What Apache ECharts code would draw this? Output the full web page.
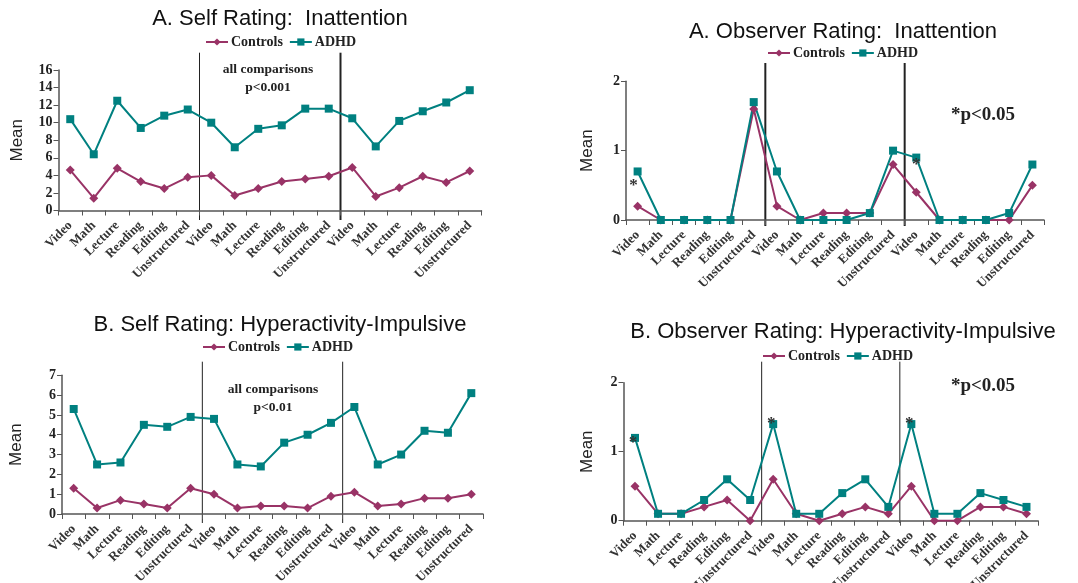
<!DOCTYPE html>
<html>
<head>
<meta charset="utf-8">
<script src="https://cdn.jsdelivr.net/npm/echarts@6/dist/echarts.min.js"></script>
<style>
  html, body { margin: 0; padding: 0; background: #fff; }
  #main { width: 1078px; height: 583px; }
</style>
</head>
<body>
<div id="main"></div>
<script>
var activities = ["Video", "Math", "Lecture", "Reading", "Editing", "Unstructured"];
var categories = activities.concat(activities, activities);

// A. Self rating: inattention
var selfInattControls = [4.6, 1.4, 4.8, 3.3, 2.5, 3.8, 4.0, 1.7, 2.5, 3.3, 3.6, 3.9, 4.9, 1.6, 2.6, 3.9, 3.2, 4.5];
var selfInattAdhd = [10.4, 6.4, 12.5, 9.4, 10.8, 11.5, 10.0, 7.2, 9.3, 9.7, 11.6, 11.6, 10.5, 7.3, 10.2, 11.3, 12.3, 13.7];

// A. Observer rating: inattention
var obsInattControls = [0.2, 0, 0, 0, 0, 1.6, 0.2, 0, 0.1, 0.1, 0.1, 0.8, 0.4, 0, 0, 0, 0, 0.5];
var obsInattAdhd = [0.7, 0, 0, 0, 0, 1.7, 0.7, 0, 0, 0, 0.1, 1.0, 0.9, 0, 0, 0, 0.1, 0.8];
var obsInattStars = [0, 12];

// B. Self rating: hyperactivity-impulsive
var selfHyperControls = [1.3, 0.3, 0.7, 0.5, 0.3, 1.3, 1.0, 0.3, 0.4, 0.4, 0.3, 0.9, 1.1, 0.4, 0.5, 0.8, 0.8, 1.0];
var selfHyperAdhd = [5.3, 2.5, 2.6, 4.5, 4.4, 4.9, 4.8, 2.5, 2.4, 3.6, 4.0, 4.6, 5.4, 2.5, 3.0, 4.2, 4.1, 6.1];

// B. Observer rating: hyperactivity-impulsive
var obsHyperControls = [0.5, 0.1, 0.1, 0.2, 0.3, 0, 0.6, 0.1, 0, 0.1, 0.2, 0.1, 0.5, 0, 0, 0.2, 0.2, 0.1];
var obsHyperAdhd = [1.2, 0.1, 0.1, 0.3, 0.6, 0.3, 1.4, 0.1, 0.1, 0.4, 0.6, 0.2, 1.4, 0.1, 0.1, 0.4, 0.3, 0.2];
var obsHyperStars = [0, 6, 12];

var SERIF = '"Liberation Serif", "Times New Roman", serif';
var SANS = '"Liberation Sans", Arial, sans-serif';
var PLUM = "#993366";
var TEAL = "#008080";

var panels = [
  {
    title: "A. Self Rating:  Inattention", titlePos: [280, 19],
    grid: { left: 58.5, top: 70, width: 423, height: 140.5 },
    max: 16, interval: 2, nameGap: 33,
    legend: { left: 205, top: 35 },
    controls: selfInattControls, adhd: selfInattAdhd,
    stars: [], starOffset: [],
    sep: { top: 52.7, bottom: 220, widths: [1, 2] }
  },
  {
    title: "A. Observer Rating:  Inattention", titlePos: [843, 32],
    grid: { left: 626, top: 81.3, width: 418, height: 138.7 },
    max: 2, interval: 1, nameGap: 30,
    legend: { left: 767, top: 46 },
    controls: obsInattControls, adhd: obsInattAdhd,
    stars: obsInattStars, starOffset: [[-4, 14], [0, 7]],
    sep: { top: 63, bottom: 226, widths: [2, 2] }
  },
  {
    title: "B. Self Rating: Hyperactivity-Impulsive", titlePos: [280, 325],
    grid: { left: 62, top: 375.3, width: 421, height: 138.7 },
    max: 7, interval: 1, nameGap: 37,
    legend: { left: 202, top: 340 },
    controls: selfHyperControls, adhd: selfHyperAdhd,
    stars: [], starOffset: [],
    sep: { top: 361.7, bottom: 523, widths: [1, 1] }
  },
  {
    title: "B. Observer Rating: Hyperactivity-Impulsive", titlePos: [843, 332],
    grid: { left: 623.5, top: 382.7, width: 414.5, height: 138 },
    max: 2, interval: 1, nameGap: 28,
    legend: { left: 762, top: 349 },
    controls: obsHyperControls, adhd: obsHyperAdhd,
    stars: obsHyperStars, starOffset: [[-2, 5], [-2, 0], [-2, 0]],
    sep: { top: 361.7, bottom: 523, widths: [1, 1] }
  }
];

var grids = [], xAxes = [], yAxes = [], series = [], legends = [], texts = [];

panels.forEach(function (p, i) {
  grids.push({
    left: p.grid.left, top: p.grid.top, width: p.grid.width, height: p.grid.height,
    containLabel: false, outerBoundsMode: "none"
  });
  xAxes.push({
    type: "category", gridIndex: i, data: categories, boundaryGap: true,
    axisLine: { lineStyle: { color: "#555", width: 1.5 } },
    axisTick: { show: true, interval: 0, length: 5, lineStyle: { color: "#555" } },
    axisLabel: {
      interval: 0, rotate: 45, margin: 13,
      fontFamily: SERIF, fontWeight: "bold", fontSize: 13, color: "#333"
    },
    splitLine: { show: false }
  });
  yAxes.push({
    type: "value", gridIndex: i, min: 0, max: p.max, interval: p.interval,
    name: "Mean", nameLocation: "middle", nameRotate: 90, nameGap: p.nameGap,
    nameTextStyle: { fontFamily: SANS, fontSize: 17, color: "#222" },
    axisLine: { show: true, lineStyle: { color: "#555", width: 1.5 } },
    axisTick: { show: true, length: 5, lineStyle: { color: "#555" } },
    axisLabel: { fontFamily: SERIF, fontWeight: "bold", fontSize: 14, color: "#222", margin: 6 },
    splitLine: { show: false }
  });
  series.push({
    name: "Controls", type: "line", xAxisIndex: i, yAxisIndex: i,
    data: p.controls, symbol: "diamond", symbolSize: 9,
    color: PLUM, lineStyle: { width: 2 }
  });
  var starData = p.stars.map(function (idx, k) {
    return {
      coord: [idx, p.adhd[idx]],
      label: { offset: p.starOffset[k] }
    };
  });
  series.push({
    name: "ADHD", type: "line", xAxisIndex: i, yAxisIndex: i,
    data: p.adhd, symbol: "rect", symbolSize: 8,
    color: TEAL, lineStyle: { width: 2 },
    markPoint: {
      symbol: "circle", symbolSize: 1,
      itemStyle: { color: "transparent" },
      label: {
        show: true, formatter: "*", position: "inside",
        fontFamily: SERIF, fontWeight: "bold", fontSize: 17, color: "#333"
      },
      data: starData
    }
  });
  legends.push({
    data: ["Controls", "ADHD"], left: p.legend.left, top: p.legend.top,
    itemWidth: 22, itemHeight: 9, itemGap: 6, padding: 0,
    textStyle: { fontFamily: SERIF, fontWeight: "bold", fontSize: 14, color: "#222", padding: [0, 0, 0, -2] }
  });
  texts.push({
    type: "text", id: "title" + i, x: p.titlePos[0], y: p.titlePos[1],
    style: { text: p.title, font: '22px ' + SANS, fill: "#111", align: "center", verticalAlign: "middle" }
  });
});

var notes = [
  { text: "all comparisons", x: 268, y: 70, size: 13.5 },
  { text: "p<0.001", x: 268, y: 88, size: 13.5 },
  { text: "all comparisons", x: 273, y: 390, size: 13.5 },
  { text: "p<0.01", x: 273, y: 408, size: 13.5 },
  { text: "*p<0.05", x: 983, y: 115, size: 19 },
  { text: "*p<0.05", x: 983, y: 386, size: 19 }
];
notes.forEach(function (n, k) {
  texts.push({
    type: "text", id: "note" + k, x: n.x, y: n.y,
    style: { text: n.text, font: 'bold ' + n.size + 'px ' + SERIF, fill: "#222", align: "center", verticalAlign: "middle" }
  });
});

var chart = echarts.init(document.getElementById("main"));
chart.setOption({
  animation: false,
  backgroundColor: "#fff",
  grid: grids,
  xAxis: xAxes,
  yAxis: yAxes,
  legend: legends,
  series: series,
  graphic: texts
});

// vertical separators between the three blocks of activities
var seps = [];
panels.forEach(function (p, i) {
  [6, 12].forEach(function (b, j) {
    var x = (chart.convertToPixel({ xAxisIndex: i }, b - 1) + chart.convertToPixel({ xAxisIndex: i }, b)) / 2;
    seps.push({
      type: "line", id: "sep" + i + "_" + j,
      shape: { x1: x, y1: p.sep.top, x2: x, y2: p.sep.bottom },
      style: { stroke: "#222", lineWidth: p.sep.widths[j] }
    });
  });
});
chart.setOption({ graphic: texts.concat(seps) });
</script>
</body>
</html>
